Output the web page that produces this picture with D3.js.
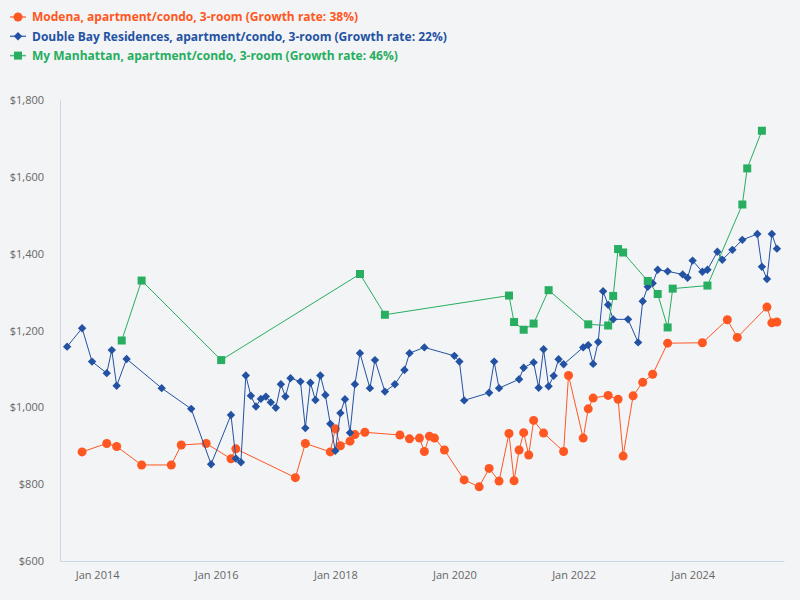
<!DOCTYPE html>
<html><head><meta charset="utf-8">
<script src="https://cdn.jsdelivr.net/npm/d3@7"></script>
<style>
html,body{margin:0;padding:0;background:#f3f4f6;}
svg{display:block;}
</style></head>
<body>
<svg id="chart" width="800" height="600"></svg>
<script>
const seriesNames = [
  "Modena, apartment/condo, 3-room (Growth rate: 38%)",
  "Double Bay Residences, apartment/condo, 3-room (Growth rate: 22%)",
  "My Manhattan, apartment/condo, 3-room (Growth rate: 46%)"
];
const seriesColors = ["#ff5722", "#2352a3", "#27ae60"];
const seriesMarkers = ["circle", "diamond", "square"];

const modenaDates = ["2013-10","2014-03","2014-05","2014-10","2015-04","2015-06","2015-11","2016-04","2016-05","2017-05","2017-07","2017-12","2018-01","2018-02","2018-04","2018-05","2018-07","2019-02","2019-04","2019-06","2019-07","2019-08","2019-09","2019-11","2020-03","2020-06","2020-08","2020-10","2020-12","2021-01","2021-02","2021-03","2021-04","2021-05","2021-07","2021-11","2021-12","2022-03","2022-04","2022-05","2022-08","2022-10","2022-11","2023-01","2023-03","2023-05","2023-08","2024-03","2024-08","2024-10","2025-04","2025-05","2025-06"];
const modenaValues = [884,906,898,850,850,902,906,866,892,817,906,884,944,900,912,929,935,928,918,920,885,925,920,889,811,793,841,808,932,809,889,934,876,966,933,885,1083,920,996,1024,1031,1021,873,1030,1065,1086,1167,1168,1228,1182,1261,1220,1222];

const doubleBayDates = ["2013-07","2013-10","2013-12","2014-03","2014-04","2014-05","2014-07","2015-02","2015-08","2015-12","2016-04","2016-05","2016-06","2016-07","2016-08","2016-09","2016-10","2016-11","2016-12","2017-01","2017-02","2017-03","2017-04","2017-06","2017-07","2017-08","2017-09","2017-10","2017-11","2017-12","2018-01","2018-02","2018-03","2018-04","2018-05","2018-06","2018-08","2018-09","2018-11","2019-01","2019-03","2019-04","2019-07","2020-01","2020-02","2020-03","2020-08","2020-09","2020-10","2021-02","2021-03","2021-05","2021-06","2021-07","2021-08","2021-09","2021-10","2021-11","2022-03","2022-04","2022-05","2022-06","2022-07","2022-08","2022-09","2022-12","2023-02","2023-03","2023-04","2023-05","2023-06","2023-08","2023-11","2023-12","2024-01","2024-03","2024-04","2024-06","2024-07","2024-09","2024-11","2025-02","2025-03","2025-04","2025-05","2025-06"];
const doubleBayValues = [1158,1206,1119,1089,1149,1056,1126,1050,996,852,980,867,857,1083,1030,1002,1022,1028,1013,999,1060,1028,1076,1067,946,1064,1019,1083,1032,957,887,985,1021,934,1060,1141,1050,1123,1041,1060,1097,1141,1156,1134,1119,1018,1038,1119,1050,1073,1103,1117,1051,1151,1055,1082,1125,1112,1156,1162,1113,1170,1302,1267,1229,1229,1169,1276,1314,1323,1358,1354,1346,1337,1382,1353,1358,1405,1384,1410,1436,1451,1366,1334,1451,1413];

const manhattanDates = ["2014-06","2014-10","2016-02","2018-06","2018-11","2020-12","2021-01","2021-03","2021-05","2021-08","2022-04","2022-08","2022-09","2022-10","2022-11","2023-04","2023-06","2023-08","2023-09","2024-04","2024-11","2024-12","2025-03"];
const manhattanValues = [1174,1330,1123,1347,1241,1291,1222,1202,1218,1305,1216,1213,1290,1412,1403,1329,1295,1208,1309,1317,1528,1622,1720];

const yTicks = [600,800,1000,1200,1400,1600,1800];
const xTickDates = ["2014-01","2016-01","2018-01","2020-01","2022-01","2024-01"];

const parse = d3.timeParse("%Y-%m");
const build = (dates, vals) => dates.map((d,i)=>({date: parse(d), value: vals[i]}));
const series = [
  build(modenaDates, modenaValues),
  build(doubleBayDates, doubleBayValues),
  build(manhattanDates, manhattanValues)
];

const svg = d3.select("#chart");
const plotLeft = 60, plotRight = 784, plotTop = 100, plotBottom = 561;

const allDates = series.flat().map(d=>d.date);
const ext = d3.extent(allDates);
const span = ext[1] - ext[0];
const x = d3.scaleTime()
  .domain([new Date(+ext[0] - span*0.01), new Date(+ext[1] + span*0.01)])
  .range([plotLeft, plotRight]);
const y = d3.scaleLinear().domain([600,1800]).range([plotBottom, plotTop]);

const font = "'Open Sans', 'Noto Sans', sans-serif";

// axes
const yAxis = svg.append("g").attr("transform",`translate(${plotLeft},0)`)
  .call(d3.axisLeft(y).tickValues(yTicks).tickSize(0).tickPadding(16)
    .tickFormat(d=>"$"+d3.format(",")(d)));
yAxis.select(".domain").attr("stroke","#ccd6eb");
yAxis.selectAll("text").attr("fill","#666").style("font-family",font).style("font-size","11px");

const xAxis = svg.append("g").attr("transform",`translate(0,${plotBottom})`)
  .call(d3.axisBottom(x).tickValues(xTickDates.map(parse)).tickSize(0).tickPadding(10)
    .tickFormat(d3.timeFormat("Jan %Y")));
xAxis.select(".domain").attr("stroke","#ccd6eb");
xAxis.selectAll("text").attr("fill","#666").style("font-family",font).style("font-size","11px");

const line = d3.line().x(d=>x(d.date)).y(d=>y(d.value));

function drawMarker(g, type, color, cx, cy) {
  if (type === "circle") {
    g.append("circle").attr("cx",cx).attr("cy",cy).attr("r",4.5).attr("fill",color);
  } else if (type === "diamond") {
    const s = 4.2;
    g.append("path").attr("d",`M${cx},${cy-s}L${cx+s},${cy}L${cx},${cy+s}L${cx-s},${cy}Z`).attr("fill",color);
  } else {
    const s = 4;
    g.append("rect").attr("x",cx-s).attr("y",cy-s).attr("width",2*s).attr("height",2*s).attr("fill",color);
  }
}

series.forEach((data, i) => {
  const g = svg.append("g");
  g.append("path").datum(data).attr("d", line).attr("fill","none")
    .attr("stroke", seriesColors[i]).attr("stroke-width",1);
  data.forEach(d => drawMarker(g, seriesMarkers[i], seriesColors[i], x(d.date), y(d.value)));
});

// legend
const legend = svg.append("g");
seriesNames.forEach((name, i) => {
  const cy = 17 + i*19.3;
  legend.append("line").attr("x1",10).attr("x2",26).attr("y1",cy).attr("y2",cy)
    .attr("stroke",seriesColors[i]).attr("stroke-width",1.5).attr("stroke-opacity",0.8);
  drawMarker(legend, seriesMarkers[i], seriesColors[i], 18, cy);
  legend.append("text").attr("x",32).attr("y",cy).attr("dy","0.35em")
    .attr("fill",seriesColors[i]).style("font-family",font).style("font-size","12px")
    .style("font-weight","bold").text(name);
});
</script>
</body></html>
